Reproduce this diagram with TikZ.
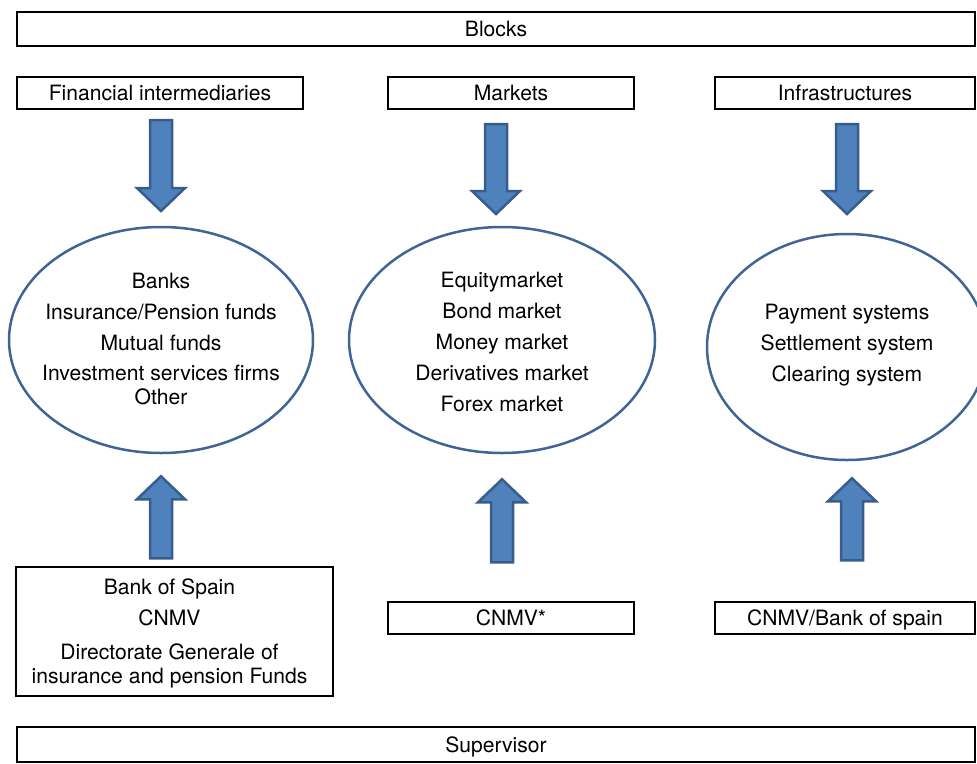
\documentclass[tikz,border=0pt]{standalone}
\usepackage{fontspec}
\setmainfont{TeX Gyre Heros}
\usepackage{xcolor}
\usetikzlibrary{calc,shapes.geometric}
\definecolor{arrowfill}{HTML}{4F81BD}
\definecolor{arrowedge}{HTML}{385D8A}
\definecolor{ringblue}{HTML}{3F6496}

\tikzset{
  box/.style={draw, line width=0.4mm, inner sep=0pt, align=center, minimum height=6.4mm},
  tag/.style={box, text depth=0pt},
  group/.style={ellipse, draw=ringblue, line width=0.5mm, inner sep=0pt, minimum height=45.2mm},
  list/.style={align=center, inner sep=0pt},
  pics/blockarrow/.style={code={
    \draw[draw=arrowedge, fill=arrowfill, line width=0.5mm, line join=miter]
      (-11,0) -- (11,0) -- (11,#1-23) -- (24,#1-23) -- (0,#1) -- (-24,#1-23) -- (-11,#1-23) -- cycle;
  }},
}

\begin{document}
\begin{tikzpicture}[x=0.2mm, y=-0.2mm, font=\fontsize{12}{17.6}\selectfont]
  \useasboundingbox (0,0) rectangle (977,763);
  \clip (0,0) rectangle (977,763);

  % header row
  \node[tag, minimum width=191.6mm, minimum height=6.8mm] (blocks) at (496,29) {Blocks};
  \node[tag, minimum width=57.2mm] (fin) at (160,93) {Financial intermediaries};
  \node[tag, minimum width=49.2mm] (mkt) at (511,93) {Markets};
  \node[tag, minimum width=52mm] (infra) at (845,93) {Infrastructures};

  % what each block holds
  \node[group, minimum width=60.8mm] (finset) at (161,340) {};
  \node[list] (finlist) at ($(finset)+(0,-1)$)
    {Banks\\Insurance/Pension funds\\Mutual funds\\Investment services firms\\[-4pt]Other};
  \node[group, minimum width=61.2mm] (mktset) at (502,340) {};
  \node[list] (mktlist) at ($(mktset)+(0,2)$)
    {Equitymarket\\Bond market\\Money market\\Derivatives market\\Forex market};
  \node[group, minimum width=56mm] (infset) at (847,347) {};
  \node[list] (inflist) at ($(infset)+(0,-2)$)
    {Payment systems\\Settlement system\\Clearing system};

  % supervisors
  \node[box, minimum width=63.4mm, minimum height=25.8mm] (finsup) at (174.5,631.5) {};
  \node[list] (finsuplist) at ($(finsup)+(-5,2)$)
    {Bank of Spain\\CNMV\\[2pt]Directorate Generale of\\[-4pt]insurance and pension Funds};
  \node[tag, minimum width=49.2mm] (mktsup) at (511,618) {CNMV*};
  \node[tag, minimum width=52mm] (infsup) at (845,618) {CNMV/Bank of spain};
  \node[tag, minimum width=191.6mm, minimum height=7mm] (super) at (496,744.5) {Supervisor};

  % block arrows
  \pic at ($(finset.north |- fin.south)+(0,10)$) {blockarrow=91};
  \pic at ($(mktset.north |- mkt.south)+(-6,14)$) {blockarrow=90};
  \pic at ($(infset.north |- infra.south)+(0,14)$) {blockarrow=90};
  \pic[rotate=180] at ($(finset.south)+(0,104)$) {blockarrow=82};
  \pic[rotate=180] at ($(mktset.south)+(0,108)$) {blockarrow=83};
  \pic[rotate=180] at ($(infset.south)+(5,99)$) {blockarrow=82};
\end{tikzpicture}
\end{document}
